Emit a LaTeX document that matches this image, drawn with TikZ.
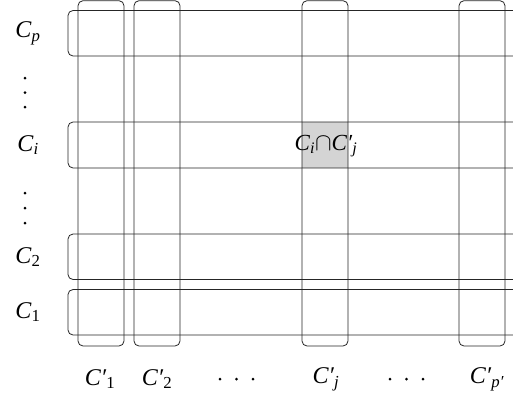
\documentclass[tikz,border=0pt]{standalone}
\usepackage{fontspec}
\setmainfont{Liberation Serif}
\newcommand\CC[1]{\textit{C}\textsubscript{#1}}
\newcommand\CQ[1]{\textit{C\char"2032}\textsubscript{#1}}
\begin{document}
\begin{tikzpicture}[x=1pt,y=-1pt,
  box/.style={draw=black!85,line width=0.8pt,rounded corners=5pt},
  lab/.style={inner sep=0pt,font=\fontsize{24}{26}\selectfont},
  dot/.style={fill=black,radius=1.5pt}]
\useasboundingbox (0,0) rectangle (513,405);
\clip (0,0) rectangle (513,405);
% shaded cell
\fill[black!17] (302,122) rectangle (348,168);
% rows
\draw[box] (68,10.5) rectangle (518,56);
\draw[box] (68,122) rectangle (518,168);
\draw[box] (68,234) rectangle (518,279.5);
\draw[box] (68,289.5) rectangle (518,335);
% columns
\draw[box] (78,0.7) rectangle (124,346);
\draw[box] (134,0.7) rectangle (180,346);
\draw[box] (302,0.7) rectangle (348,346);
\draw[box] (459,0.7) rectangle (505,346);
% row labels
\node[lab] (lp) at (28,33) {\CC{\textit{p}}};
\node[lab] (li) at (28,145) {\CC{\textit{i}}};
\node[lab] (l2) at (28,257) {\CC{2}};
\node[lab] (l1) at (28,312) {\CC{1}};
% vertical dots
\foreach \y in {78,92.5,107,193,208,223} \fill[dot] (25,\y) circle;
% column labels
\node[lab] (k1) at (100,379) {\CQ{1}};
\node[lab] (k2) at (157,379) {\CQ{2}};
\node[lab] (kj) at (326,379) {\CQ{\textit{j}}};
\node[lab] (kp) at (487,379) {\CQ{\textit{p\char"2032}}};
% horizontal dots
\foreach \x in {220,236.5,253,390,406.5,423} \fill[dot] (\x,379) circle;
% cell label
\node[lab,font=\fontsize{23}{25}\selectfont] (cell) at (326,146) {\CC{\textit{i}}$\cap$\CQ{\textit{j}}};
\end{tikzpicture}
\end{document}
